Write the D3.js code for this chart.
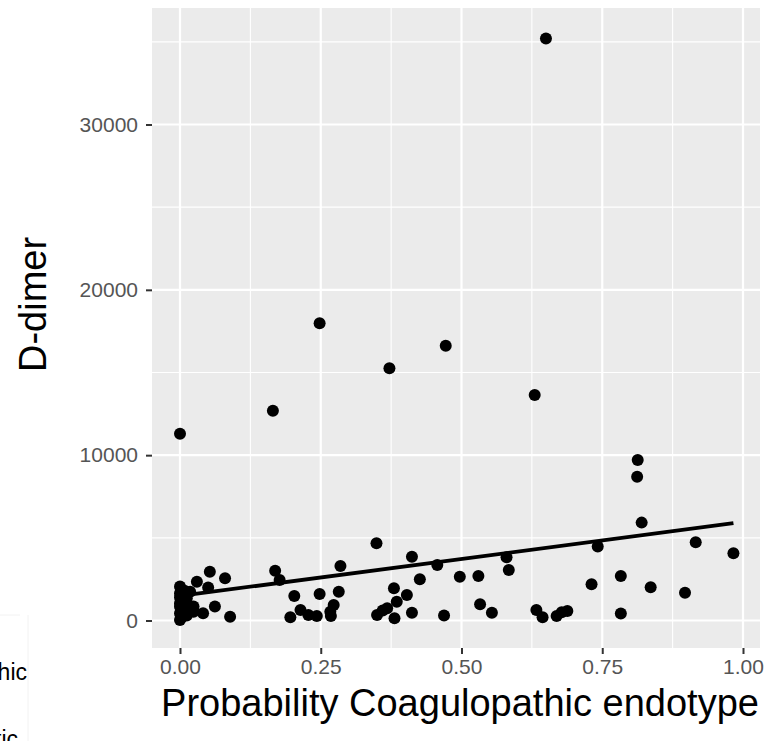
<!DOCTYPE html>
<html>
<head>
<meta charset="utf-8">
<script src="https://cdn.jsdelivr.net/npm/d3@7"></script>
<style>
  body { margin: 0; background: #ffffff; }
  text { font-family: "Liberation Sans", Arial, sans-serif; }
</style>
</head>
<body>
<svg id="ddimer-plot" width="771" height="741"></svg>
<script>
// Probability of the coagulopathic endotype against D-dimer, one entry per patient
const prob = [
  0.000, 0.165, 0.248, 0.372, 0.472, 0.630, 0.813, 0.812, 0.650,
  0.349, 0.412, 0.457, 0.497, 0.426, 0.285, 0.169, 0.177, 0.053, 0.080,
  0.030, 0.000, 0.050, 0.018, 0.203, 0.248, 0.282, 0.273, 0.267, 0.268,
  0.214, 0.228, 0.243, 0.196, 0.062, 0.089, 0.041, 0.024, 0.350, 0.368,
  0.380, 0.385, 0.403, 0.381, 0.412, 0.469, 0.360, 0.530, 0.533, 0.554,
  0.580, 0.584, 0.633, 0.644, 0.669, 0.678, 0.688, 0.731, 0.742, 0.783,
  0.783, 0.820, 0.836, 0.897, 0.916, 0.983,
  0.000, 0.012, 0.000, 0.012, 0.000, 0.024, 0.000, 0.012, 0.000, 0.005,
  0.003, 0.008, 0.000, 0.015, 0.006
]
const ddimer = [
  11300, 12680, 17980, 15260, 16620, 13640, 9710, 8700, 35200,
  4670, 3860, 3360, 2650, 2490, 3300, 3010, 2450, 2950, 2550,
  2350, 2050, 2000, 1740, 1480, 1600, 1740, 940, 530, 270,
  630, 330, 270, 190, 840, 230, 440, 840, 330, 740,
  1950, 1140, 1540, 130, 470, 300, 600, 2690, 980, 470,
  3820, 3050, 630, 190, 270, 500, 580, 2190, 4470, 2690,
  430, 5920, 2010, 1680, 4730, 4070,
  1650, 1340, 1040, 980, 440, 530, 30, 300, 1400, 700,
  200, 1800, 850, 600, 1150
]

// Linear fit, start and end
const fitProb = [0, 0.983]
const fitDdimer = [1485, 5885]

const xTicks = [0, 0.25, 0.5, 0.75, 1]
const xMinor = [0.125, 0.375, 0.625, 0.875]
const yTicks = [0, 10000, 20000, 30000]
const yMinor = [5000, 15000, 25000, 35000]

const legendLabels = ['Coagulopathic', 'Hypoinflammatic']

const svg = d3.select('#ddimer-plot')

const panel = { left: 152, right: 760, top: 8, bottom: 648 }

const x = d3.scaleLinear().domain([0, 1]).range([180, 743])
const y = d3.scaleLinear().domain([0, 30000]).range([620.5, 124.5])

/* Panel background */
svg.append('rect')
    .attr('x', panel.left)
    .attr('y', panel.top)
    .attr('width', panel.right - panel.left)
    .attr('height', panel.bottom - panel.top)
    .attr('fill', '#ebebeb')

/* Grid: minor first, then major */
const grid = svg.append('g')

grid.selectAll('.xminor').data(xMinor).join('line')
    .attr('x1', d => x(d)).attr('x2', d => x(d))
    .attr('y1', panel.top).attr('y2', panel.bottom)
    .attr('stroke', '#ffffff').attr('stroke-width', 1.1)

grid.selectAll('.yminor').data(yMinor).join('line')
    .attr('x1', panel.left).attr('x2', panel.right)
    .attr('y1', d => y(d)).attr('y2', d => y(d))
    .attr('stroke', '#ffffff').attr('stroke-width', 1.1)

grid.selectAll('.xmajor').data(xTicks).join('line')
    .attr('x1', d => x(d)).attr('x2', d => x(d))
    .attr('y1', panel.top).attr('y2', panel.bottom)
    .attr('stroke', '#ffffff').attr('stroke-width', 2.2)

grid.selectAll('.ymajor').data(yTicks).join('line')
    .attr('x1', panel.left).attr('x2', panel.right)
    .attr('y1', d => y(d)).attr('y2', d => y(d))
    .attr('stroke', '#ffffff').attr('stroke-width', 2.2)

/* Points */
svg.append('g')
  .selectAll('circle')
  .data(d3.range(prob.length))
  .join('circle')
    .attr('cx', i => x(prob[i]))
    .attr('cy', i => y(ddimer[i]))
    .attr('r', 6)
    .attr('fill', '#000000')

/* Regression line */
svg.append('path')
    .datum(d3.range(fitProb.length))
    .attr('d', d3.line().x(i => x(fitProb[i])).y(i => y(fitDdimer[i])))
    .attr('fill', 'none')
    .attr('stroke', '#000000')
    .attr('stroke-width', 3.8)

/* Axes */
const xAxis = svg.append('g')
    .attr('transform', `translate(0,${panel.bottom})`)
    .call(d3.axisBottom(x).tickValues(xTicks).tickFormat(d3.format('.2f')).tickSize(6).tickPadding(5))

const yAxis = svg.append('g')
    .attr('transform', `translate(${panel.left},0)`)
    .call(d3.axisLeft(y).tickValues(yTicks).tickFormat(d3.format('d')).tickSize(6).tickPadding(8))

;[xAxis, yAxis].forEach(ax => {
  ax.select('.domain').remove()
  ax.selectAll('.tick line').attr('stroke', '#333333').attr('stroke-width', 2)
  ax.selectAll('.tick text')
      .attr('fill', '#555555')
      .style('font-size', '21px')
      .style('font-family', '"Liberation Sans", Arial, sans-serif')
})

/* Axis titles */
svg.append('text')
    .attr('x', 460)
    .attr('y', 716)
    .attr('text-anchor', 'middle')
    .style('font-size', '38px')
    .attr('fill', '#000000')
    .text('Probability Coagulopathic endotype')

svg.append('text')
    .attr('transform', 'translate(46,372) rotate(-90)')
    .attr('text-anchor', 'start')
    .style('font-size', '38px')
    .attr('fill', '#000000')
    .text('D-dimer')

/* Legend, clipped at the left edge */
svg.append('line')
    .attr('x1', 28).attr('x2', 28)
    .attr('y1', 615).attr('y2', 741)
    .attr('stroke', '#f2f2f2').attr('stroke-width', 1)

svg.append('line')
    .attr('x1', 0).attr('x2', 20)
    .attr('y1', 615).attr('y2', 615)
    .attr('stroke', '#f2f2f2').attr('stroke-width', 1)

svg.selectAll('.legend-label')
  .data(legendLabels)
  .join('text')
    .attr('class', 'legend-label')
    .attr('x', (d, i) => i === 0 ? 27 : 18)
    .attr('y', (d, i) => i === 0 ? 680 : 747)
    .attr('text-anchor', 'end')
    .style('font-size', '23px')
    .attr('fill', '#000000')
    .text(d => d)
</script>
</body>
</html>
